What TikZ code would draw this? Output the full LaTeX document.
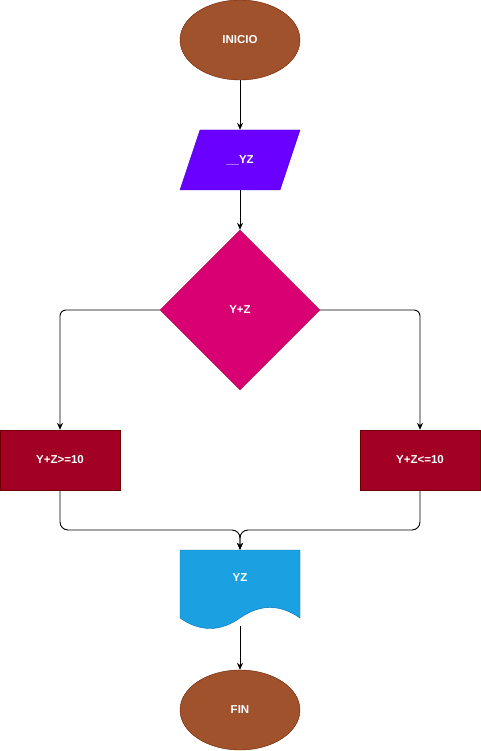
\documentclass[tikz,border=0pt]{standalone}
\usepackage{fontspec}
\setmainfont{Liberation Sans}
\usetikzlibrary{arrows.meta,shapes.geometric}
\definecolor{termfill}{HTML}{A0522D}
\definecolor{termline}{HTML}{6D1F00}
\definecolor{iofill}{HTML}{6A00FF}
\definecolor{ioline}{HTML}{3700CC}
\definecolor{decfill}{HTML}{D80073}
\definecolor{decline}{HTML}{A50040}
\definecolor{procfill}{HTML}{A20025}
\definecolor{procline}{HTML}{6F0000}
\definecolor{docfill}{HTML}{1BA1E2}
\definecolor{docline}{HTML}{006EAF}
\tikzset{
  txt/.style={text=white, font=\bfseries\fontsize{11.5}{13}\selectfont},
  term/.style={ellipse, draw=termline, fill=termfill, minimum width=120pt, minimum height=80pt, inner sep=0pt, txt},
  proc/.style={rectangle, draw=procline, fill=procfill, minimum width=120pt, minimum height=60pt, inner sep=0pt, txt},
  flow/.style={draw, line width=0.9pt, -{Stealth[length=7pt,width=6pt]}},
}

\begin{document}
\begin{tikzpicture}[x=1pt, y=-1pt]
    \useasboundingbox (0,0) rectangle (481,751);
    \def\cx{240}

    % start
    \node (ini) [term] at (\cx,40) {INICIO};

    % input
    \fill[iofill, draw=ioline] (200,130) -- (300,130) -- (280,190) -- (180,190) -- cycle;
    \node (in) [minimum width=120pt, minimum height=60pt, inner sep=0pt, txt] at (\cx,160) {\_\_YZ};

    % decision
    \node (dec) [diamond, aspect=1, draw=decline, fill=decfill, minimum width=160pt, minimum height=160pt, inner sep=0pt, txt] at (\cx,310) {Y+Z};

    % branches
    \node (ge) [proc] at (60,460) {Y+Z>=10};
    \node (le) [proc] at (420,460) {Y+Z<=10};

    % output document
    \fill[docfill, draw=docline] (180,550) -- (300,550) -- (300,618)
        .. controls (280,604) and (260,604) .. (240,618)
        .. controls (220,632) and (200,632) .. (180,618) -- cycle;
    \node (doc) [minimum width=120pt, minimum height=80pt, inner sep=0pt] at (\cx,590) {};
    \node (doctxt) [txt] at (\cx,578) {YZ};
    \coordinate (join) at (\cx,530);

    % end
    \node (fin) [term] at (\cx,710) {FIN};

    \draw[flow] (ini) -- (in);
    \draw[flow] (in) -- (dec);
    \draw[flow, rounded corners=6pt] (dec.west) -| (ge.north);
    \draw[flow, rounded corners=6pt] (dec.east) -| (le.north);
    \draw[flow, rounded corners=8pt] (ge.south) |- (join) -- (doc.north);
    \draw[flow, rounded corners=8pt] (le.south) |- (join) -- (doc.north);
    \draw[flow] ([yshift=4pt]doc.south) -- (fin);
\end{tikzpicture}
\end{document}
